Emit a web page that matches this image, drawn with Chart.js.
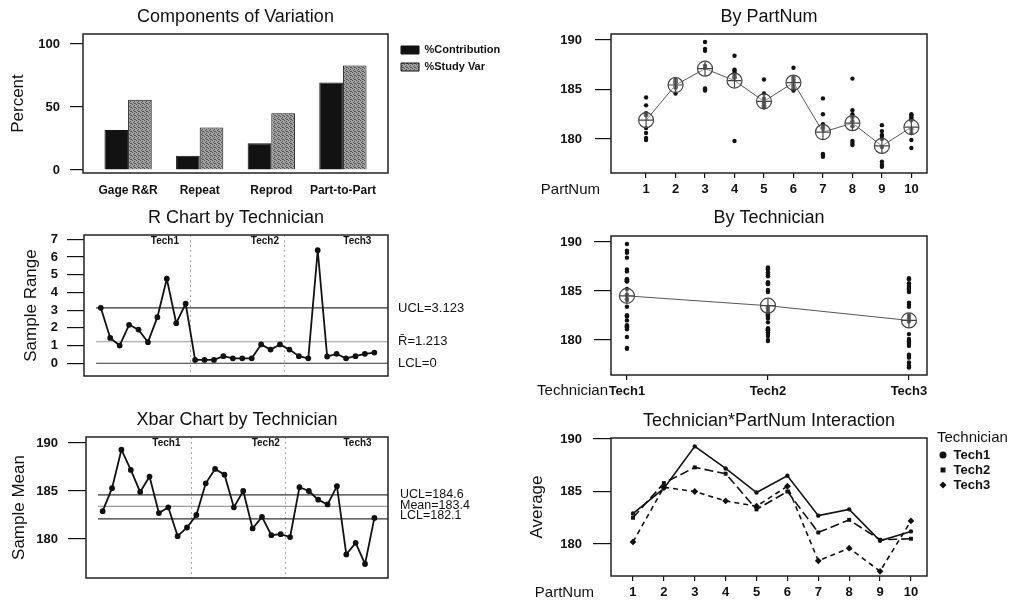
<!DOCTYPE html>
<html>
<head>
<meta charset="utf-8">
<title>Gage R&amp;R (ANOVA) for Measurement</title>
<script src="https://cdn.jsdelivr.net/npm/chart.js@4.4.1/dist/chart.umd.min.js"></script>
<style>
  html, body { margin: 0; padding: 0; background: #fff; }
  body { width: 1012px; height: 601px; position: relative; overflow: hidden; }
  canvas { position: absolute; }
</style>
</head>
<body>
<canvas id="cov"    width="540" height="200" style="left:0;top:0"></canvas>
<canvas id="byPart" width="472" height="200" style="left:540px;top:0"></canvas>
<canvas id="rChart" width="540" height="200" style="left:0;top:200px"></canvas>
<canvas id="byTech" width="512" height="200" style="left:500px;top:200px"></canvas>
<canvas id="xbar"   width="540" height="201" style="left:0;top:400px"></canvas>
<canvas id="inter"  width="492" height="201" style="left:520px;top:400px"></canvas>

<script>
/* ============================================================
   ============================================================ */
const categories      = ['Gage R&R', 'Repeat', 'Reprod', 'Part-to-Part'];
const pctContribution = [31.8, 11.4, 21.2, 69.5];
const pctStudyVar     = [55.7, 33.7, 45.1, 83.0];
const pctTicks        = [0, 50, 100];

const parts      = [1, 2, 3, 4, 5, 6, 7, 8, 9, 10];
const techs      = ['Tech1', 'Tech2', 'Tech3'];
const meanTicks  = [180, 185, 190];
const rangeTicks = [0, 1, 2, 3, 4, 5, 6, 7];

// three trials per part (parts 1..10), one list per technician
const tech1Trials = [
  [184.2, 183.4, 181.1], [186.0, 185.2, 184.6], [189.8, 189.1, 188.9], [188.4, 187.0, 186.2],
  [186.0, 184.6, 184.1], [187.2, 186.2, 186.0], [184.1, 182.5, 181.5], [186.1, 182.5, 181.3],
  [181.4, 180.3, 179.2], [182.4, 182.0, 179.1]
];
const tech2Trials = [
  [182.6, 182.5, 182.4], [185.9, 185.8, 185.7], [187.4, 187.3, 187.2], [186.9, 186.7, 186.5],
  [183.4, 183.3, 183.2], [185.1, 185.0, 184.9], [181.2, 181.1, 181.0], [182.9, 182.2, 181.8],
  [180.8, 180.4, 180.0], [181.0, 180.6, 179.9]
];
const tech3Trials = [
  [180.6, 180.1, 179.9], [185.6, 185.3, 185.2], [185.1, 185.0, 184.9], [186.3, 186.2, 179.8],
  [183.8, 183.6, 183.4], [185.8, 185.5, 185.3], [178.5, 178.4, 178.2], [179.8, 179.6, 179.4],
  [177.7, 177.4, 177.2], [182.5, 182.2, 181.9]
];

const partMeans = [181.9, 185.45, 187.1, 185.9, 183.8, 185.7, 180.7, 181.6, 179.3, 181.2];
const techMeans = [184.5, 183.5, 182.0];

// subgroup averages (Xbar chart / interaction plot)
const tech1Means = [182.9, 185.3, 189.3, 187.2, 184.9, 186.5, 182.7, 183.3, 180.3, 181.2];
const tech2Means = [182.5, 185.8, 187.3, 186.7, 183.3, 185.0, 181.1, 182.3, 180.4, 180.5];
const tech3Means = [180.2, 185.4, 185.0, 184.1, 183.6, 185.5, 178.4, 179.6, 177.4, 182.2];

// subgroup ranges (R chart)
const tech1Ranges = [3.13, 1.43, 1.0, 2.17, 1.9, 1.19, 2.6, 4.77, 2.26, 3.36];
const tech2Ranges = [0.19, 0.19, 0.19, 0.4, 0.28, 0.28, 0.28, 1.06, 0.77, 1.06];
const tech3Ranges = [0.77, 0.4, 0.28, 6.38, 0.38, 0.53, 0.28, 0.4, 0.53, 0.6];

const rUCL = 3.123, rBar = 1.213, rLCL = 0;
const xUCL = 184.6, xMean = 183.4, xLCL = 182.1;
const techSplits  = [10.5, 20.5];          // subgroup boundaries between technicians
const techLabelAt = [7.8, 18.4, 28.2];     // where Minitab prints Tech1/2/3 on the control charts


/* ============================================================
   SHARED STYLE + SMALL PLUGINS
   ============================================================ */
const FONT = "'Liberation Sans', Arial, Helvetica, sans-serif";
const INK  = '#111';
Chart.defaults.font.family = FONT;
Chart.defaults.color = INK;
Chart.defaults.animation = false;

const tickFont = { size: 13, weight: 'bold' };

// box round the plot area (Minitab draws all four sides)
const frame = {
  id: 'frame',
  afterDatasetsDraw(chart) {
    const { ctx, chartArea: a } = chart;
    ctx.save();
    ctx.strokeStyle = '#222';
    ctx.lineWidth = 1.5;
    ctx.strokeRect(a.left, a.top, a.right - a.left, a.bottom - a.top);
    ctx.restore();
  }
};

// free text labels; each "at" gets the chart and returns [x, y]
function notes(items) {
  return {
    id: 'notes',
    afterDraw(chart) {
      const ctx = chart.ctx;
      items.forEach(n => {
        const [x, y] = n.at(chart);
        ctx.save();
        ctx.font = n.font;
        ctx.fillStyle = INK;
        ctx.textAlign = n.align || 'left';
        ctx.textBaseline = 'middle';
        ctx.fillText(n.text, x, y);
        ctx.restore();
      });
    }
  };
}

// legend that takes no room from the plot and sits at a fixed spot
function legendAt(left, top) {
  return {
    id: 'legendAt',
    beforeLayout(chart) {
      const lg = chart.legend;
      if (!lg || lg._pinned) return;
      const fit = lg.fit;
      lg.fit = function () { fit.call(this); this.width = 0; };
      lg._pinned = true;
    },
    afterLayout(chart) {
      const lg = chart.legend;
      lg.left = left;  lg.top = top;
      lg.right = chart.width; lg.width = chart.width - left;   // legend clips to its own box
      lg.height = 160; lg.bottom = top + 160;
    }
  };
}

function panelTitle(text, centerY, boxTop) {
  return {
    display: true, text, fullSize: false, color: INK,
    font: { size: 18, weight: 'normal' },
    padding: { top: centerY - 10.8, bottom: boxTop - centerY - 10.8 }
  };
}

// value axis with outward tick marks and a fixed width
function yAxis(min, max, values, width, tickLen, pad, title, titleX) {
  return {
    type: 'linear', min, max,
    afterBuildTicks: s => { s.ticks = values.map(v => ({ value: v })); },
    afterFit: s => { s.width = width; },
    border: { display: false },
    grid: { drawOnChartArea: false, drawTicks: true, tickLength: tickLen, color: INK, lineWidth: 1.2 },
    ticks: { font: tickFont, color: INK, padding: pad },
    title: title
      ? { display: true, text: title, color: INK, font: { size: 17 }, padding: { top: titleX - 10.2, bottom: 0 } }
      : { display: false }
  };
}

// bottom axis with short tick marks under the box
function xAxis(min, max, values, height, labelFn) {
  return {
    type: 'linear', min, max, offset: false,
    afterBuildTicks: s => { s.ticks = values.map(v => ({ value: v })); },
    afterFit: s => { s.height = height; },
    border: { display: false },
    grid: { drawOnChartArea: false, drawTicks: true, tickLength: 5, color: INK, lineWidth: 1.2 },
    ticks: { font: tickFont, color: INK, padding: 4, maxRotation: 0, autoSkip: false, callback: labelFn }
  };
}

// control chart x axis: no labels, dotted lines between technicians
function subgroupAxis(height) {
  return {
    type: 'linear', min: -0.78, max: 31.45,
    afterBuildTicks: s => { s.ticks = techSplits.map(v => ({ value: v })); },
    afterFit: s => { s.height = height; },
    border: { display: false, dash: [2, 3] },
    grid: { drawOnChartArea: true, drawTicks: false, color: '#aaa', lineWidth: 1 },
    ticks: { display: false }
  };
}

function hline(y, color) {
  return {
    data: [{ x: 0.5, y }, { x: 31.45, y }],
    borderColor: color, borderWidth: 1.2, pointRadius: 0, order: 5
  };
}

// grey stipple used by Minitab for %Study Var
function stipple() {
  const c = document.createElement('canvas');
  c.width = 4; c.height = 4;
  const g = c.getContext('2d');
  g.fillStyle = '#a2a2a2'; g.fillRect(0, 0, 4, 4);
  g.fillStyle = '#555';
  [[0, 0], [2, 1], [1, 2], [3, 3], [2, 3]].forEach(([x, y]) => g.fillRect(x, y, 1, 1));
  return g.createPattern(c, 'repeat');
}

const subgroup = arr => arr.map((v, i) => ({ x: i + 1, y: v }));
const allRanges = [...tech1Ranges, ...tech2Ranges, ...tech3Ranges];
const allMeans  = [...tech1Means, ...tech2Means, ...tech3Means];
const trialsByTech = [tech1Trials, tech2Trials, tech3Trials];

const techText = () => techs.map((t, i) => ({
  text: t, font: `bold 10px ${FONT}`, align: 'center',
  at: ch => [ch.scales.x.getPixelForValue(techLabelAt[i]), ch.chartArea.top + 6]
}));


/* ============================================================
   1. COMPONENTS OF VARIATION — grouped bars
   ============================================================ */
new Chart(document.getElementById('cov'), {
  type: 'bar',
  data: {
    datasets: [
      { label: '%Contribution', data: pctContribution.map((v, i) => ({ x: i, y: v })),
        backgroundColor: '#121212', borderColor: INK, borderWidth: 1,
        categoryPercentage: 0.66, barPercentage: 1 },
      { label: '%Study Var', data: pctStudyVar.map((v, i) => ({ x: i, y: v })),
        backgroundColor: stipple(), borderColor: INK, borderWidth: 1,
        categoryPercentage: 0.66, barPercentage: 1 }
    ]
  },
  options: {
    responsive: false, devicePixelRatio: 1,
    layout: { padding: { right: 152 } },
    scales: {
      x: {
        type: 'linear', min: -0.63, max: 3.63, offset: false,
        afterBuildTicks: s => { s.ticks = categories.map((c, i) => ({ value: i })); },
        afterFit: s => { s.height = 27; },
        border: { display: false },
        grid: { display: false, drawTicks: false, offset: false },
        ticks: { font: { size: 12, weight: 'bold' }, color: INK, padding: 10, maxRotation: 0,
                 autoSkip: false, callback: v => categories[v] }
      },
      y: yAxis(-2.4, 108, pctTicks, 83, 13, 10, 'Percent', 18)
    },
    plugins: {
      title: panelTitle('Components of Variation', 17, 34),
      legend: {
        position: 'right', align: 'start',
        labels: { boxWidth: 18, boxHeight: 8, padding: 6, textAlign: 'left', color: INK,
                  font: { size: 11, weight: 'bold' } }
      },
      tooltip: { enabled: false }
    }
  },
  plugins: [frame, legendAt(395, 38.5)]
});


/* ============================================================
   2. BY PARTNUM — every reading, mean per part
   ============================================================ */
new Chart(document.getElementById('byPart'), {
  type: 'scatter',
  data: {
    datasets: [
      { data: partMeans.map((v, i) => ({ x: parts[i], y: v })), pointStyle: 'cross', pointRadius: 7,
        pointBorderColor: '#444', pointBorderWidth: 1.2, showLine: false, order: 0 },
      { data: partMeans.map((v, i) => ({ x: parts[i], y: v })), showLine: true,
        borderColor: '#555', borderWidth: 1, pointRadius: 7.5, pointBorderWidth: 1.2,
        pointBorderColor: '#444', pointBackgroundColor: 'rgba(255,255,255,0.35)', order: 1 },
      { data: parts.flatMap((p, i) => trialsByTech.flatMap(t => t[i]).map(v => ({ x: p, y: v }))),
        pointRadius: 2.2, pointBackgroundColor: INK, pointBorderColor: INK, pointBorderWidth: 0, order: 2 }
    ]
  },
  options: {
    responsive: false, devicePixelRatio: 1,
    layout: { padding: { right: 85 } },
    scales: {
      x: xAxis(-0.19, 10.53, parts, 27),
      y: yAxis(176.57, 190.6, meanTicks, 71, 16, 13)
    },
    plugins: {
      title: panelTitle('By PartNum', 17, 34),
      legend: { display: false },
      tooltip: { enabled: false }
    }
  },
  plugins: [frame, notes([
    { text: 'PartNum', font: `15px ${FONT}`, align: 'right', at: c => [c.chartArea.left - 11, c.chartArea.bottom + 17] }
  ])]
});


/* ============================================================
   3. R CHART BY TECHNICIAN
   ============================================================ */
new Chart(document.getElementById('rChart'), {
  type: 'line',
  data: {
    datasets: [
      { data: subgroup(allRanges), borderColor: INK, borderWidth: 1.8, pointRadius: 2,
        pointBackgroundColor: INK, pointBorderColor: INK, tension: 0, order: 0 },
      hline(rUCL, '#333'),
      hline(rBar, '#9a9a9a'),
      hline(rLCL, '#333')
    ]
  },
  options: {
    responsive: false, devicePixelRatio: 1,
    layout: { padding: { right: 152 } },
    scales: {
      x: subgroupAxis(24),
      y: yAxis(-0.72, 7.24, rangeTicks, 84, 17, 9, 'Sample Range', 31)
    },
    plugins: {
      title: panelTitle('R Chart by Technician', 18, 35),
      legend: { display: false },
      tooltip: { enabled: false }
    }
  },
  plugins: [frame, notes([
    { text: 'UCL=3.123', font: `13px ${FONT}`, at: c => [c.chartArea.right + 10, c.scales.y.getPixelForValue(rUCL)] },
    { text: 'R\u0304=1.213', font: `13px ${FONT}`, at: c => [c.chartArea.right + 10, c.scales.y.getPixelForValue(rBar)] },
    { text: 'LCL=0', font: `13px ${FONT}`, at: c => [c.chartArea.right + 10, c.scales.y.getPixelForValue(rLCL)] },
    ...techText()
  ])]
});


/* ============================================================
   4. BY TECHNICIAN — every reading, mean per technician
   ============================================================ */
new Chart(document.getElementById('byTech'), {
  type: 'scatter',
  data: {
    datasets: [
      { data: techMeans.map((v, i) => ({ x: i + 1, y: v })), pointStyle: 'cross', pointRadius: 7,
        pointBorderColor: '#444', pointBorderWidth: 1.2, showLine: false, order: 0 },
      { data: techMeans.map((v, i) => ({ x: i + 1, y: v })), showLine: true,
        borderColor: '#555', borderWidth: 1, pointRadius: 7.5, pointBorderWidth: 1.2,
        pointBorderColor: '#444', pointBackgroundColor: 'rgba(255,255,255,0.35)', order: 1 },
      { data: trialsByTech.flatMap((t, i) => t.flat().map(v => ({ x: i + 1, y: v }))),
        pointRadius: 2.2, pointBackgroundColor: INK, pointBorderColor: INK, pointBorderWidth: 0, order: 2 }
    ]
  },
  options: {
    responsive: false, devicePixelRatio: 1,
    layout: { padding: { right: 85 } },
    scales: {
      x: xAxis(0.887, 3.128, [1, 2, 3], 25, v => techs[v - 1]),
      y: yAxis(176.43, 190.61, meanTicks, 111, 17, 12)
    },
    plugins: {
      title: panelTitle('By Technician', 18, 36),
      legend: { display: false },
      tooltip: { enabled: false }
    }
  },
  plugins: [frame, notes([
    { text: 'Technician', font: `15px ${FONT}`, align: 'right', at: c => [c.chartArea.left - 3, c.chartArea.bottom + 16] }
  ])]
});


/* ============================================================
   5. XBAR CHART BY TECHNICIAN
   ============================================================ */
new Chart(document.getElementById('xbar'), {
  type: 'line',
  data: {
    datasets: [
      { data: subgroup(allMeans), borderColor: INK, borderWidth: 1.8, pointRadius: 2,
        pointBackgroundColor: INK, pointBorderColor: INK, tension: 0, order: 0 },
      hline(xUCL, '#333'),
      hline(xMean, '#9a9a9a'),
      hline(xLCL, '#333')
    ]
  },
  options: {
    responsive: false, devicePixelRatio: 1,
    layout: { padding: { right: 152 } },
    scales: {
      x: subgroupAxis(23),
      y: yAxis(175.94, 190.625, meanTicks, 86, 18, 10, 'Sample Mean', 19)
    },
    plugins: {
      title: panelTitle('Xbar Chart by Technician', 20, 37),
      legend: { display: false },
      tooltip: { enabled: false }
    }
  },
  plugins: [frame, notes([
    { text: 'UCL=184.6', font: `12.5px ${FONT}`, at: c => [c.chartArea.right + 12, c.scales.y.getPixelForValue(xUCL)] },
    { text: 'Mean=183.4', font: `12.5px ${FONT}`, at: c => [c.chartArea.right + 12, c.scales.y.getPixelForValue(xMean) - 1] },
    { text: 'LCL=182.1', font: `12.5px ${FONT}`, at: c => [c.chartArea.right + 12, c.scales.y.getPixelForValue(xLCL) - 3] },
    ...techText()
  ])]
});


/* ============================================================
   6. TECHNICIAN * PARTNUM INTERACTION
   ============================================================ */
const techLine = (label, means, dash, style, radius) => ({
  label, data: means.map((v, i) => ({ x: parts[i], y: v })),
  borderColor: INK, borderWidth: 1.6, borderDash: dash, tension: 0,
  pointStyle: style, pointRadius: radius, pointBackgroundColor: INK, pointBorderColor: INK, pointBorderWidth: 0
});

new Chart(document.getElementById('inter'), {
  type: 'line',
  data: {
    datasets: [
      techLine('Tech1', tech1Means, [], 'circle', 2.2),
      techLine('Tech2', tech2Means, [9, 4], 'rect', 2.8),
      techLine('Tech3', tech3Means, [5, 4], 'rectRot', 3.4)
    ]
  },
  options: {
    responsive: false, devicePixelRatio: 1,
    layout: { padding: { right: 85 } },
    scales: {
      x: xAxis(0.288, 10.52, parts, 25),
      y: yAxis(176.95, 190.1, meanTicks, 91, 18, 11, 'Average', 17)
    },
    plugins: {
      title: panelTitle('Technician*PartNum Interaction', 21, 38),
      legend: {
        position: 'right', align: 'start',
        title: { display: true, text: 'Technician', position: 'start', color: INK,
                 font: { size: 15 }, padding: { top: 2.5, bottom: -2 } },
        labels: { usePointStyle: true, boxWidth: 8, boxHeight: 5, padding: 2, textAlign: 'left',
                  color: INK, font: { size: 13, weight: 'bold' } }
      },
      tooltip: { enabled: false }
    }
  },
  plugins: [frame, legendAt(417, 28), notes([
    { text: 'PartNum', font: `15px ${FONT}`, align: 'right', at: c => [c.chartArea.left - 17, c.chartArea.bottom + 17] }
  ])]
});
</script>
</body>
</html>
